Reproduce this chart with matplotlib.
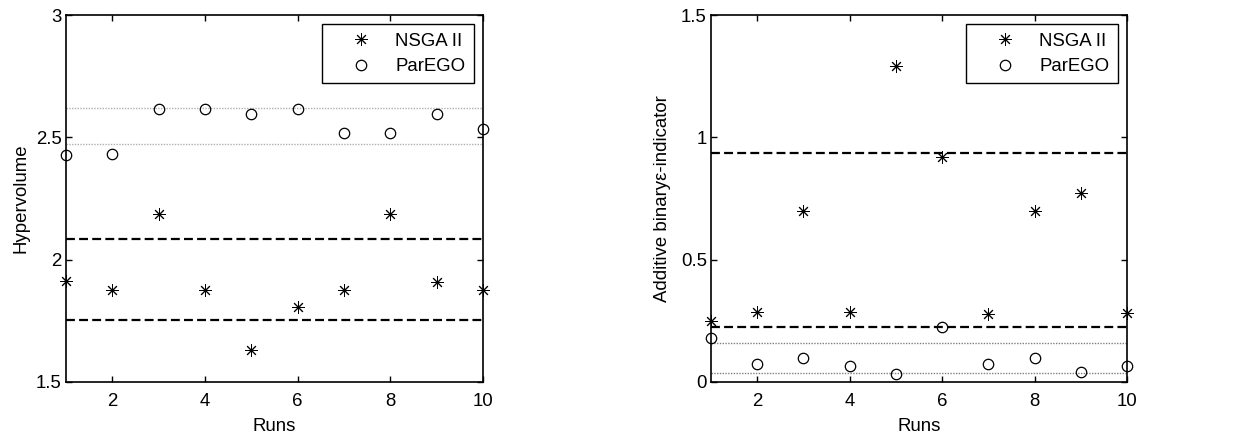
import matplotlib
matplotlib.use("Agg")
import matplotlib.pyplot as plt

plt.rcParams['font.family'] = ['Liberation Sans', 'DejaVu Sans']

runs = [1, 2, 3, 4, 5, 6, 7, 8, 9, 10]

hv_nsga = [1.913, 1.875, 2.185, 1.875, 1.631, 1.808, 1.875, 2.185, 1.910, 1.875]
hv_parego = [2.428, 2.433, 2.615, 2.615, 2.595, 2.615, 2.519, 2.519, 2.595, 2.535]
hv_nsga_bounds = [2.085, 1.754]
hv_parego_bounds = [2.621, 2.473]

eps_nsga = [0.250, 0.287, 0.699, 0.287, 1.291, 0.921, 0.279, 0.699, 0.774, 0.283]
eps_parego = [0.178, 0.072, 0.097, 0.065, 0.031, 0.225, 0.072, 0.097, 0.042, 0.066]
eps_nsga_bounds = [0.938, 0.223]
eps_parego_bounds = [0.159, 0.035]

xticks = [2, 4, 6, 8, 10]

fig = plt.figure(figsize=(12.4, 4.37), dpi=100)
ax1 = fig.add_axes([66/1240, 55/437, 417/1240, 367/437])
ax2 = fig.add_axes([711/1240, 55/437, 416/1240, 367/437])

ast = (8, 2, 0)
FS = 13.4

def draw(ax, nsga, parego, nb, pb, ylim, yticks, yticklabels, ylabel, gray, ylpad):
    for v in pb:
        ax.axhline(v, color=gray, lw=1.0, ls=(0, (1, 1)), zorder=1)
    for v in nb:
        ax.axhline(v, color='black', lw=1.6, ls=(0, (4, 1.9)), zorder=1)
    ax.plot(runs, nsga, ls='none', marker=ast, ms=9, mew=0.7, color='black',
            label='NSGA II', clip_on=False, zorder=3)
    ax.plot(runs, parego, ls='none', marker='o', ms=7.5, mew=0.9, mfc='none',
            mec='black', label='ParEGO', clip_on=False, zorder=3)
    ax.set_xlim(1, 10)
    ax.set_ylim(*ylim)
    ax.set_xticks(xticks)
    ax.set_yticks(yticks)
    ax.set_yticklabels(yticklabels)
    ax.tick_params(direction='in', top=True, right=True, labelsize=FS, length=4, width=1)
    ax.tick_params(axis='x', pad=8)
    ax.tick_params(axis='y', pad=3)
    for s in ax.spines.values():
        s.set_linewidth(1.2)
    ax.set_xlabel('Runs', fontsize=FS, labelpad=6)
    ax.set_ylabel(ylabel, fontsize=FS, labelpad=ylpad)
    leg = ax.legend(loc='upper right', fontsize=FS, frameon=True, fancybox=False,
                    edgecolor='black', framealpha=1, borderpad=0.45,
                    handletextpad=0.2, handlelength=3.3, borderaxespad=0.5,
                    labelspacing=0.45)
    leg.get_frame().set_linewidth(1.0)

draw(ax1, hv_nsga, hv_parego, hv_nsga_bounds, hv_parego_bounds, (1.5, 3),
     [1.5, 2, 2.5, 3], ['1.5', '2', '2.5', '3'], 'Hypervolume', '#b0b0b0', 5)
draw(ax2, eps_nsga, eps_parego, eps_nsga_bounds, eps_parego_bounds, (0, 1.5),
     [0, 0.5, 1, 1.5], ['0', '0.5', '1', '1.5'], 'Additive binary\u03b5-indicator', '#808080', 7)

fig.savefig('out.png', dpi=100)
